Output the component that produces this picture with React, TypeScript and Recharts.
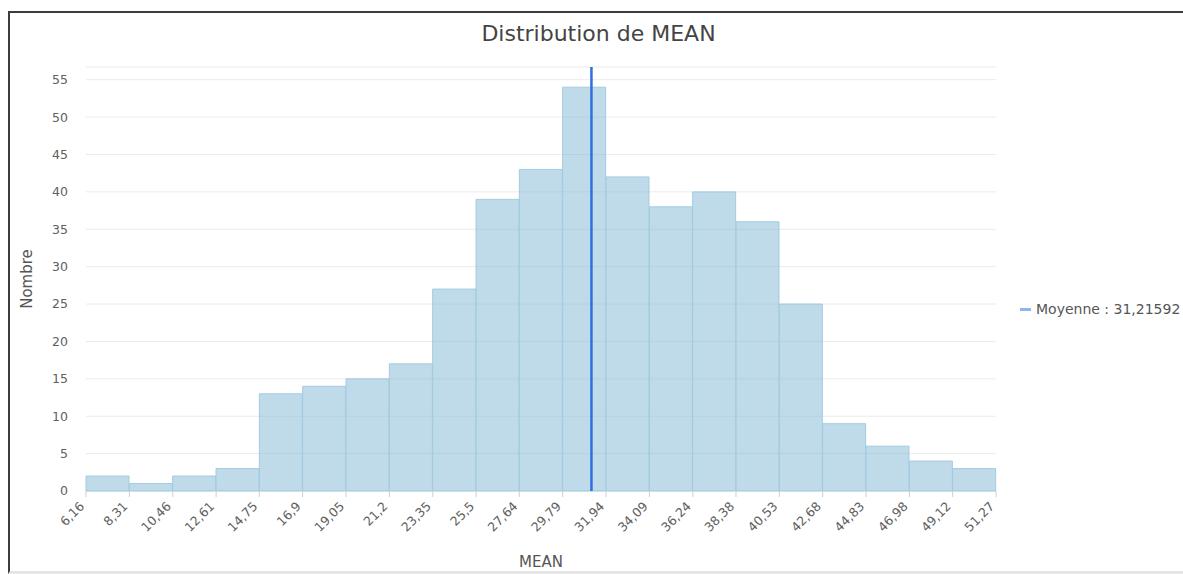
import React from "react";
import {
  ComposedChart,
  Bar,
  XAxis,
  YAxis,
  CartesianGrid,
  ReferenceLine,
} from "recharts";

const TITLE = "Distribution de MEAN";
const X_LABEL = "MEAN";
const Y_LABEL = "Nombre";
const MEAN_VALUE = 31.21592;
const MEAN_LABEL = "Moyenne : 31,21592";

const binEdges = [
  6.16, 8.31, 10.46, 12.61, 14.75, 16.9, 19.05, 21.2, 23.35, 25.5, 27.64,
  29.79, 31.94, 34.09, 36.24, 38.38, 40.53, 42.68, 44.83, 46.98, 49.12, 51.27,
];
const counts = [
  2, 1, 2, 3, 13, 14, 15, 17, 27, 39, 43, 54, 42, 38, 40, 36, 25, 9, 6, 4, 3,
];
const yTicks = [0, 5, 10, 15, 20, 25, 30, 35, 40, 45, 50, 55];

const data = counts.map((c, i) => ({
  bin: `${binEdges[i]}-${binEdges[i + 1]}`,
  lo: binEdges[i],
  count: c,
}));

const FONT = "'DejaVu Sans', Verdana, sans-serif";
const fmt = (v: number) => String(v).replace(".", ",");

const XTick = (props: any) => {
  const { x, y, payload } = props;
  const px = x - 4;
  const py = y + 5;
  return (
    <text
      x={px}
      y={py}
      dy="0.35em"
      textAnchor="end"
      transform={`rotate(-45, ${px}, ${py})`}
      fill="#606060"
      fontSize={12.5}
      fontFamily={FONT}
    >
      {fmt(payload.value)}
    </text>
  );
};

const YLabel = (props: any) => {
  const vb = props.viewBox || { x: 0, y: 0, width: 0, height: 0 };
  const cx = vb.x + 17;
  const cy = vb.y + vb.height / 2;
  return (
    <text
      x={cx}
      y={cy}
      textAnchor="middle"
      dominantBaseline="central"
      transform={`rotate(-90, ${cx}, ${cy})`}
      fill="#555"
      fontSize={15}
      fontFamily={FONT}
    >
      {Y_LABEL}
    </text>
  );
};

const XLabel = (props: any) => {
  const vb = props.viewBox || { x: 0, y: 0, width: 0, height: 0 };
  return (
    <text
      x={vb.x + vb.width / 2}
      y={vb.y + 71}
      textAnchor="middle"
      dominantBaseline="central"
      fill="#555"
      fontSize={15}
      fontFamily={FONT}
    >
      {X_LABEL}
    </text>
  );
};

export default function App() {
  return (
    <div style={{ height: 560 }}>
      <div
        style={{
          position: "fixed",
          left: 8,
          top: 11,
          width: 1173,
          height: 558,
          borderTop: "2px solid #3c3c3c",
          borderLeft: "2px solid #3c3c3c",
          borderBottom: "3px solid #e6e6e6",
          background: "#fff",
        }}
      >
        <div
          style={{
            position: "absolute",
            top: 7,
            left: 2,
            width: 1173,
            textAlign: "center",
            fontFamily: FONT,
            fontSize: 22,
            lineHeight: "28px",
            color: "#444",
          }}
        >
          {TITLE}
        </div>
        <ComposedChart
          width={1173}
          height={558}
          data={data}
          margin={{ top: 54, right: 187, left: 0, bottom: 0 }}
          barCategoryGap={0}
          barGap={0}
        >
          <CartesianGrid vertical={false} stroke="#ebebeb" />
          <XAxis
            xAxisId="num"
            dataKey="lo"
            type="number"
            domain={[binEdges[0], binEdges[binEdges.length - 1]]}
            allowDataOverflow
            ticks={binEdges}
            interval={0}
            height={80}
            axisLine={false}
            tickLine={{ stroke: "#cfcfcf" }}
            tickSize={6}
            tick={<XTick />}
            label={<XLabel />}
          />
          <XAxis xAxisId="cat" dataKey="bin" hide height={0} />
          <YAxis
            type="number"
            domain={[0, 56.7]}
            ticks={yTicks}
            width={76}
            axisLine={false}
            tickLine={false}
            tickSize={0}
            tickMargin={18}
            tick={{ fill: "#606060", fontSize: 12.5, fontFamily: FONT }}
            label={<YLabel />}
          />
          <Bar
            xAxisId="cat"
            dataKey="count"
            fill="#7fb8d6"
            fillOpacity={0.5}
            stroke="#a3cbe0"
            strokeWidth={1}
            isAnimationActive={false}
          />
          <ReferenceLine
            xAxisId="num"
            x={MEAN_VALUE}
            stroke="#2f6fe0"
            strokeWidth={2.5}
          />
        </ComposedChart>
        <div
          style={{
            position: "absolute",
            left: 1010,
            top: 288,
            display: "flex",
            alignItems: "center",
            fontFamily: FONT,
            fontSize: 14,
            color: "#555",
            whiteSpace: "nowrap",
          }}
        >
          <span
            style={{
              display: "inline-block",
              width: 11,
              height: 3,
              background: "#8fb8ea",
              marginRight: 5,
            }}
          />
          {MEAN_LABEL}
        </div>
      </div>
    </div>
  );
}
